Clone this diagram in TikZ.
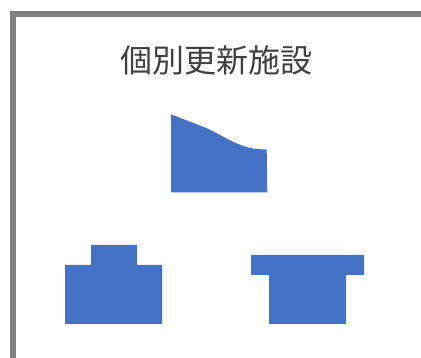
\documentclass[tikz,border=0pt]{standalone}
\usepackage{fontspec}
\newfontfamily\cjk{Noto Sans CJK JP}
\definecolor{shapeblue}{HTML}{4472C4}
\definecolor{framegray}{HTML}{7F7F7F}
\definecolor{titlegray}{HTML}{404040}
\tikzset{
  mass/.style={fill=shapeblue,draw=none},
  frameline/.style={draw=framegray,line width=5.6pt,line cap=butt,line join=miter}
}
\begin{document}
\begin{tikzpicture}[x=1pt,y=-1pt]
\useasboundingbox (0,0) rectangle (421,358);
\draw[frameline] (13,358) -- (13,14) -- (421,14);
\node[text=titlegray,inner sep=0pt] (title) at (216.5,60) {\fontsize{32}{36}\selectfont\cjk 個別更新施設};
\path[mass] (171,114.3) -- (205,127.5) .. controls (222,134.5) and (240,149.3) .. (262,149.3) -- (266.7,149.3) -- (267.3,192.3) -- (171,192.3) -- cycle;
\path[mass] (65,324) -- (65,265) -- (91,265) -- (91,245) -- (137,245) -- (137,265) -- (162,265) -- (162,324) -- cycle;
\path[mass] (269,324) -- (269,275) -- (251,275) -- (251,255) -- (364,255) -- (364,275) -- (346,275) -- (346,324) -- cycle;
\end{tikzpicture}
\end{document}
